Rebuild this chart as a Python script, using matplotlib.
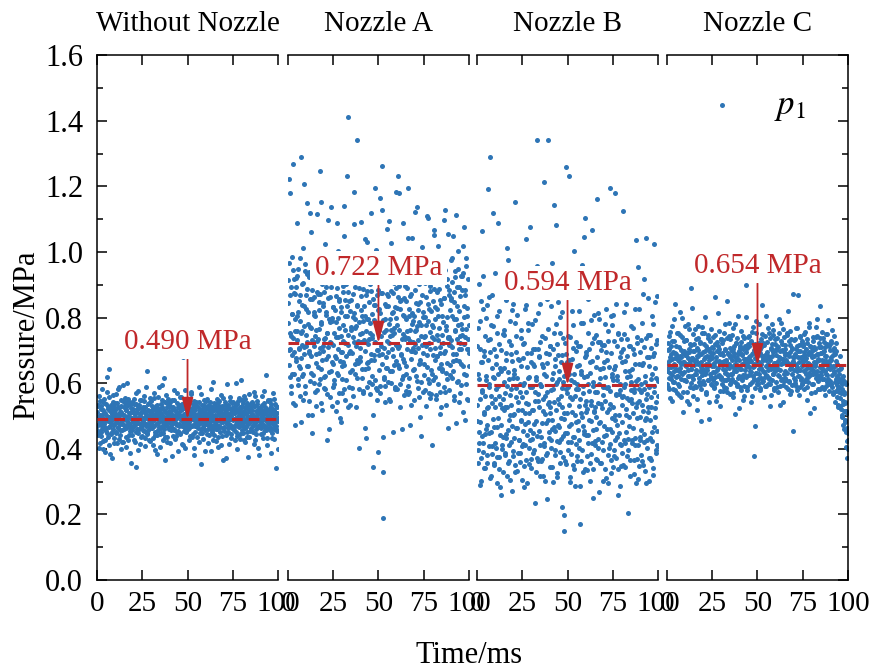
import numpy as np
import matplotlib.pyplot as plt
from matplotlib.ticker import MultipleLocator

plt.rcParams['font.family'] = ['Liberation Serif', 'DejaVu Serif']
plt.rcParams['mathtext.fontset'] = 'stix'

# pressure samples (MPa * 1000); two interleaved runs of 400 samples over 100 ms per case
p_none = [
    512, 468, 455, 530, 491, 402, 547, 478, 520, 439, 583, 497, 461, 425, 506, 552, 474, 488, 390, 535,
    463, 501, 619, 447, 528, 484, 411, 559, 493, 470, 522, 446, 508, 372, 487, 541, 459, 515, 432, 496,
    538, 481, 452, 567, 499, 417, 526, 463, 504, 589, 443, 476, 512, 398, 531, 485, 458, 547, 420, 502,
    473, 556, 491, 436, 518, 462, 601, 497, 428, 544, 479, 509, 455, 386, 523, 468, 535, 494, 441, 512,
    486, 427, 552, 471, 505, 344, 537, 489, 460, 521, 575, 448, 498, 532, 415, 476, 510, 465, 548, 493,
    438, 519, 482, 561, 453, 497, 409, 528, 474, 506, 444, 636, 490, 457, 539, 468, 501, 423, 516, 479,
    545, 462, 499, 433, 524, 488, 571, 451, 507, 396, 530, 476, 514, 443, 492, 558, 467, 521, 404, 485,
    503, 448, 536, 470, 593, 494, 426, 518, 459, 541, 483, 365, 509, 472, 527, 437, 496, 553, 461, 514,
    478, 531, 416, 495, 466, 548, 503, 440, 522, 486, 457, 579, 498, 431, 515, 474, 539, 452, 506, 392,
    527, 469, 503, 557, 444, 489, 518, 413, 536, 475, 680, 497, 453, 524, 482, 401, 546, 466, 511, 488,
    459, 514, 480, 539, 427, 502, 468, 566, 491, 436, 525, 473, 508, 382, 544, 496, 451, 519, 484, 530,
    494, 437, 526, 462, 508, 587, 475, 519, 448, 501, 354, 533, 487, 465, 512, 429, 549, 478, 503, 456,
    521, 483, 446, 552, 497, 418, 530, 469, 510, 475, 541, 392, 506, 458, 526, 489, 604, 464, 518, 441,
    476, 535, 499, 423, 516, 461, 543, 488, 405, 529, 470, 511, 452, 563, 494, 438, 520, 482, 507, 367,
    508, 454, 532, 487, 441, 518, 476, 597, 499, 462, 528, 414, 503, 471, 545, 490, 434, 523, 466, 512,
    487, 542, 465, 509, 428, 527, 493, 451, 536, 480, 399, 515, 469, 554, 497, 446, 522, 485, 611, 458,
    531, 473, 504, 447, 561, 490, 419, 524, 466, 508, 483, 540, 435, 497, 376, 519, 478, 532, 455, 501,
    464, 517, 489, 538, 452, 503, 574, 471, 426, 529, 495, 460, 512, 484, 546, 403, 506, 467, 523, 490,
    513, 445, 526, 482, 497, 561, 433, 508, 472, 539, 456, 491, 626, 467, 520, 411, 503, 486, 548, 462,
    479, 524, 458, 505, 388, 536, 491, 449, 517, 474, 553, 430, 502, 468, 531, 484, 340, 510, 457, 495,
]
p_none_2 = [
    497, 534, 442, 476, 561, 418, 503, 485, 529, 452, 470, 546, 399, 517, 481, 463, 538, 427, 509, 492,
    455, 573, 488, 521, 437, 498, 642, 466, 514, 383, 532, 479, 505, 451, 563, 494, 416, 527, 472, 506,
    519, 447, 506, 482, 538, 465, 581, 430, 499, 523, 458, 512, 487, 549, 421, 476, 503, 595, 461, 527,
    491, 540, 463, 518, 406, 485, 529, 474, 552, 443, 501, 466, 536, 493, 358, 512, 458, 543, 480, 521,
    467, 508, 535, 419, 496, 571, 452, 513, 488, 531, 395, 478, 524, 460, 507, 549, 436, 492, 515, 471,
    526, 481, 457, 545, 491, 433, 512, 468, 587, 502, 447, 519, 475, 537, 426, 498, 556, 462, 509, 484,
    473, 529, 496, 411, 518, 554, 470, 493, 442, 526, 501, 385, 534, 478, 512, 456, 589, 497, 521, 445,
    508, 464, 550, 485, 527, 449, 499, 616, 472, 515, 437, 494, 563, 481, 420, 539, 466, 507, 488, 531,
    489, 542, 458, 516, 474, 503, 378, 528, 497, 461, 548, 483, 519, 440, 505, 569, 471, 493, 526, 454,
    512, 476, 533, 447, 499, 559, 468, 521, 492, 410, 537, 483, 506, 463, 578, 497, 452, 528, 475, 515,
    485, 523, 462, 548, 506, 439, 517, 494, 573, 470, 511, 446, 535, 489, 402, 526, 468, 503, 541, 477,
    530, 468, 504, 489, 421, 542, 478, 515, 459, 501, 566, 484, 447, 523, 497, 471, 534, 392, 509, 486,
    476, 547, 493, 525, 460, 508, 443, 532, 484, 519, 498, 469, 582, 452, 514, 487, 427, 540, 472, 503,
    501, 459, 528, 474, 553, 489, 517, 436, 506, 545, 465, 493, 524, 480, 412, 531, 497, 462, 556, 490,
    466, 521, 485, 542, 497, 371, 510, 478, 533, 451, 506, 488, 559, 471, 522, 444, 499, 538, 463, 517,
    524, 490, 457, 509, 536, 472, 601, 495, 440, 518, 482, 547, 466, 503, 429, 527, 491, 512, 478, 550,
    493, 538, 471, 426, 515, 483, 552, 464, 507, 490, 534, 451, 520, 476, 568, 498, 437, 511, 486, 529,
    458, 507, 543, 486, 472, 529, 415, 498, 561, 479, 516, 444, 502, 537, 468, 491, 524, 381, 508, 473,
    520, 481, 462, 534, 499, 447, 515, 577, 470, 505, 489, 528, 456, 512, 494, 432, 546, 478, 517, 497,
    475, 512, 548, 463, 527, 490, 434, 506, 571, 482, 518, 459, 495, 537, 470, 509, 453, 526, 399, 484,
]
p_a = [
    782, 915, 654, 1221, 703, 868, 592, 744, 983, 627, 811, 540, 1268, 695, 876, 758, 473, 921, 668, 805,
    1087, 732, 614, 949, 851, 706, 560, 789, 1290, 677, 902, 623, 758, 1012, 548, 836, 711, 964, 592, 747,
    869, 651, 1148, 724, 503, 817, 693, 938, 605, 772, 1061, 684, 855, 447, 731, 991, 626, 808, 712, 574,
    945, 688, 762, 531, 879, 1116, 649, 734, 823, 598, 707, 872, 1153, 642, 781, 519, 916, 697, 843, 618,
    736, 1024, 581, 809, 675, 893, 752, 426, 861, 710, 633, 968, 785, 559, 894, 721, 1138, 664, 799, 587,
    833, 609, 754, 928, 682, 516, 867, 741, 1089, 630, 799, 705, 571, 851, 935, 667, 743, 482, 817, 694,
    612, 879, 727, 1047, 655, 806, 548, 763, 901, 683, 834, 1230, 1410, 716, 587, 849, 698, 962, 534, 771,
    853, 692, 586, 938, 741, 815, 1183, 627, 768, 894, 528, 713, 1340, 836, 662, 959, 401, 787, 708, 912,
    679, 824, 1092, 615, 753, 886, 569, 731, 978, 643, 805, 462, 869, 726, 1031, 588, 797, 664, 911, 736,
    567, 782, 906, 689, 1119, 748, 621, 857, 502, 793, 671, 943, 725, 839, 584, 1006, 701, 768, 389, 884,
    763, 641, 827, 1163, 592, 712, 874, 688, 1263, 330, 190, 755, 618, 908, 797, 543, 836, 679, 1071, 728,
    694, 866, 551, 781, 931, 637, 745, 1028, 601, 815, 703, 876, 452, 769, 654, 923, 588, 832, 1184, 716,
    829, 583, 1232, 707, 646, 896, 762, 527, 851, 688, 984, 734, 612, 807, 1089, 675, 859, 563, 742, 917,
    652, 797, 704, 891, 568, 1195, 738, 826, 615, 762, 473, 873, 697, 1042, 781, 639, 914, 725, 548, 806,
    885, 719, 621, 953, 774, 1137, 586, 708, 842, 659, 787, 497, 927, 743, 603, 869, 1015, 691, 816, 572,
    742, 658, 904, 803, 531, 776, 962, 687, 1104, 612, 841, 723, 569, 897, 756, 640, 819, 410, 778, 933,
    608, 851, 735, 1068, 672, 794, 553, 915, 746, 826, 684, 1019, 598, 768, 887, 711, 506, 842, 657, 993,
    805, 643, 949, 722, 588, 861, 1127, 697, 775, 534, 917, 662, 803, 741, 1056, 579, 883, 716, 624, 858,
    731, 909, 617, 804, 1047, 689, 562, 847, 758, 943, 478, 796, 671, 892, 735, 1003, 606, 819, 705, 571,
    867, 704, 781, 593, 928, 747, 1018, 652, 836, 719, 487, 883, 766, 624, 957, 703, 805, 548, 735, 692,
]
p_a_2 = [
    845, 702, 966, 618, 1179, 754, 893, 571, 812, 687, 946, 739, 628, 918, 796, 534, 871, 892, 676, 759,
    928, 593, 817, 652, 704, 869, 645, 982, 752, 481, 838, 715, 905, 627, 1208, 773, 689, 941, 569, 826,
    712, 886, 934, 653, 781, 547, 924, 698, 856, 1118, 632, 769, 884, 503, 947, 726, 818, 601, 863, 743,
    806, 661, 952, 729, 579, 873, 911, 693, 764, 848, 612, 1247, 787, 539, 901, 672, 834, 713, 958, 584,
    877, 738, 623, 991, 816, 566, 753, 1097, 682, 908, 797, 459, 863, 724, 636, 944, 789, 529, 658, 832,
    715, 947, 598, 823, 968, 677, 785, 542, 889, 741, 1003, 624, 857, 768, 495, 912, 696, 831, 571, 653,
    896, 664, 778, 1139, 583, 853, 722, 967, 611, 804, 916, 747, 526, 879, 692, 958, 819, 634, 925, 762,
    639, 911, 802, 561, 872, 1085, 725, 797, 658, 943, 774, 671, 617, 839, 727, 926, 583, 889, 751, 668,
    867, 724, 951, 642, 806, 789, 576, 834, 913, 697, 1039, 758, 433, 882, 661, 795, 645, 718, 604, 846,
    754, 903, 672, 881, 596, 812, 737, 954, 343, 686, 837, 1195, 611, 778, 913, 549, 869, 578, 702, 823,
    928, 685, 815, 571, 953, 744, 1129, 658, 876, 437, 793, 612, 706, 841, 592, 927, 761, 646, 646, 872,
    603, 836, 1094, 721, 794, 545, 882, 763, 969, 638, 748, 817, 683, 905, 754, 581, 937, 799, 667, 891,
    778, 942, 656, 863, 1181, 714, 598, 826, 915, 687, 853, 461, 932, 749, 621, 664, 805, 733, 895, 576,
    851, 629, 917, 758, 1043, 591, 806, 573, 727, 866, 673, 949, 532, 815, 697, 706, 788, 643, 935, 759,
    694, 1122, 763, 845, 607, 974, 731, 823, 558, 902, 661, 672, 848, 776, 439, 931, 715, 916, 803, 626,
    909, 745, 578, 992, 712, 863, 1109, 649, 788, 935, 601, 827, 554, 703, 881, 566, 959, 741, 627, 685,
    772, 887, 1052, 618, 833, 706, 954, 565, 879, 683, 731, 804, 647, 921, 574, 693, 853, 528, 966, 747,
    638, 921, 787, 1097, 691, 858, 572, 944, 763, 632, 613, 897, 739, 464, 869, 741, 715, 823, 654, 976,
    854, 711, 982, 637, 668, 794, 878, 549, 925, 761, 688, 1113, 834, 603, 947, 776, 541, 667, 892, 721,
    743, 926, 658, 884, 765, 513, 937, 802, 1075, 629, 868, 742, 981, 596, 829, 552, 704, 916, 778, 652,
]
p_b = [
    486, 712, 355, 628, 903, 417, 551, 789, 302, 664, 438, 1064, 572, 826, 391, 697, 513, 341, 745, 608,
    459, 838, 525, 382, 671, 1193, 447, 596, 1290, 734, 318, 562, 869, 409, 647, 491, 773, 356, 615, 937,
    528, 401, 684, 297, 752, 466, 591, 1087, 374, 819, 537, 443, 702, 259, 636, 880, 412, 553, 328, 761,
    645, 387, 571, 853, 432, 693, 316, 527, 974, 458, 612, 364, 789, 503, 420, 716, 582, 271, 668, 841,
    394, 629, 507, 1152, 351, 744, 462, 586, 809, 333, 675, 518, 427, 892, 573, 386, 651, 489, 762, 305,
    558, 718, 413, 601, 282, 827, 476, 1039, 538, 367, 693, 441, 616, 784, 352, 509, 931, 428, 589, 663,
    342, 781, 519, 448, 657, 908, 396, 574, 236, 703, 485, 619, 1340, 372, 544, 815, 453, 682, 318, 597,
    726, 435, 592, 864, 369, 648, 514, 407, 1212, 561, 302, 739, 478, 623, 387, 856, 536, 1340, 451, 689,
    508, 344, 712, 579, 426, 966, 487, 631, 298, 754, 542, 381, 673, 455, 1083, 596, 325, 718, 473, 847,
    612, 419, 537, 801, 356, 664, 495, 222, 586, 737, 438, 150, 621, 509, 875, 362, 688, 1258, 447, 571,
    396, 743, 1231, 468, 629, 314, 557, 892, 421, 675, 513, 349, 776, 604, 437, 1003, 562, 286, 697, 482,
    651, 377, 583, 457, 821, 529, 403, 712, 170, 637, 364, 959, 496, 571, 328, 784, 446, 618, 532, 1102,
    443, 687, 521, 336, 752, 598, 418, 862, 489, 302, 663, 547, 384, 721, 1068, 457, 592, 339, 808, 516,
    574, 412, 649, 497, 1160, 365, 726, 538, 429, 794, 268, 615, 483, 702, 355, 891, 524, 646, 397, 563,
    716, 469, 338, 587, 825, 443, 671, 513, 294, 758, 587, 402, 934, 536, 461, 692, 327, 619, 778, 451,
    528, 807, 395, 643, 488, 1181, 372, 566, 714, 437, 621, 259, 749, 502, 867, 413, 578, 695, 346, 532,
    482, 664, 1124, 351, 588, 749, 416, 637, 503, 842, 379, 556, 684, 431, 205, 713, 497, 622, 365, 775,
    603, 427, 538, 893, 462, 705, 324, 581, 659, 412, 1036, 527, 368, 741, 493, 612, 308, 827, 546, 436,
    695, 381, 574, 458, 782, 532, 349, 662, 917, 419, 603, 487, 738, 295, 553, 681, 426, 859, 512, 373,
    589, 746, 432, 612, 367, 528, 804, 451, 683, 319, 572, 1025, 496, 647, 388, 719, 543, 412, 866, 607,
]
p_b_2 = [
    534, 397, 768, 451, 612, 289, 705, 483, 851, 372, 579, 664, 418, 926, 507, 341, 683, 562, 445, 798,
    623, 471, 356, 732, 528, 863, 409, 587, 312, 694, 451, 777, 539, 385, 1120, 618, 467, 703, 349, 552,
    417, 659, 581, 374, 806, 495, 628, 337, 719, 562, 283, 645, 472, 886, 523, 398, 751, 436, 604, 517,
    748, 382, 526, 669, 445, 591, 1012, 358, 634, 487, 727, 411, 563, 305, 688, 532, 822, 469, 377, 615,
    503, 641, 433, 782, 329, 557, 696, 462, 615, 388, 869, 541, 426, 672, 361, 598, 485, 737, 519, 408,
    676, 455, 594, 347, 723, 508, 411, 838, 572, 294, 649, 483, 761, 535, 402, 618, 1075, 456, 692, 368,
    431, 587, 704, 519, 386, 652, 474, 791, 545, 329, 611, 957, 438, 568, 703, 364, 527, 679, 412, 842,
    592, 363, 658, 479, 743, 552, 317, 629, 416, 874, 507, 691, 382, 574, 248, 662, 488, 765, 541, 433,
    714, 526, 401, 836, 459, 612, 343, 703, 581, 466, 1143, 397, 652, 518, 779, 425, 603, 313, 687, 552,
    465, 638, 752, 389, 561, 431, 685, 528, 816, 375, 603, 492, 198, 721, 447, 583, 352, 664, 509, 893,
    587, 421, 669, 533, 298, 742, 476, 611, 385, 819, 552, 437, 706, 339, 628, 503, 871, 414, 581, 726,
    362, 598, 484, 713, 426, 655, 551, 286, 784, 509, 627, 395, 872, 468, 592, 1045, 453, 681, 338, 547,
    695, 512, 378, 623, 857, 441, 576, 703, 357, 631, 484, 792, 532, 416, 668, 249, 604, 511, 739, 425,
    528, 746, 459, 369, 681, 574, 813, 402, 597, 478, 724, 355, 642, 536, 883, 421, 715, 302, 589, 663,
    439, 618, 547, 779, 312, 694, 459, 586, 727, 381, 649, 522, 413, 1196, 576, 367, 806, 493, 628, 345,
    611, 378, 728, 503, 652, 428, 563, 842, 471, 608, 338, 753, 566, 449, 681, 287, 598, 736, 412, 559,
    387, 705, 561, 428, 817, 596, 343, 668, 521, 452, 734, 618, 397, 893, 548, 469, 636, 318, 712, 578,
    552, 643, 418, 769, 509, 365, 688, 574, 827, 433, 607, 296, 723, 539, 412, 954, 581, 658, 347, 496,
    428, 597, 731, 362, 654, 515, 871, 446, 583, 709, 332, 621, 493, 1041, 568, 403, 747, 526, 302, 681,
    651, 488, 372, 706, 559, 423, 628, 779, 341, 592, 467, 693, 524, 846, 397, 615, 453, 731, 562, 409,
]
p_c = [
    662, 598, 721, 645, 583, 704, 631, 756, 612, 689, 547, 673, 728, 604, 651, 795, 637, 578, 692, 619,
    713, 641, 569, 684, 752, 623, 590, 668, 817, 645, 702, 558, 679, 627, 741, 665, 512, 698, 633, 774,
    608, 687, 651, 732, 574, 659, 623, 781, 694, 535, 666, 718, 601, 643, 889, 677, 622, 749, 586, 655,
    699, 627, 765, 588, 672, 641, 706, 553, 684, 738, 617, 661, 593, 725, 648, 486, 689, 634, 771, 605,
    643, 718, 596, 680, 629, 801, 657, 572, 703, 639, 748, 611, 669, 542, 694, 655, 727, 619, 683, 594,
    676, 609, 741, 653, 587, 719, 634, 862, 668, 601, 697, 562, 713, 646, 758, 625, 689, 531, 662, 734,
    618, 693, 654, 577, 732, 666, 608, 779, 641, 705, 584, 672, 627, 851, 690, 613, 744, 658, 597, 681,
    735, 652, 603, 697, 628, 769, 571, 684, 645, 712, 659, 506, 723, 637, 678, 598, 806, 649, 691, 621,
    669, 589, 712, 642, 758, 615, 687, 548, 703, 661, 737, 592, 674, 626, 898, 653, 707, 579, 664, 718,
    624, 743, 681, 597, 667, 635, 724, 562, 690, 648, 771, 613, 659, 702, 469, 676, 631, 752, 606, 687,
    701, 614, 665, 779, 629, 692, 584, 711, 647, 837, 603, 675, 636, 722, 558, 684, 743, 618, 671, 592,
    653, 726, 598, 683, 640, 754, 617, 669, 531, 705, 652, 781, 609, 694, 627, 748, 660, 585, 718, 637,
    687, 602, 739, 656, 574, 711, 644, 796, 622, 678, 590, 729, 659, 613, 702, 542, 673, 765, 628, 696,
    617, 704, 663, 588, 753, 631, 690, 659, 821, 605, 684, 567, 716, 648, 736, 595, 662, 707, 454, 679,
    732, 641, 688, 609, 767, 654, 578, 713, 636, 699, 868, 623, 665, 744, 589, 681, 615, 728, 651, 597,
    668, 715, 583, 694, 639, 757, 612, 676, 549, 722, 647, 690, 603, 784, 658, 625, 713, 571, 687, 641,
    596, 679, 742, 628, 664, 525, 703, 651, 772, 617, 688, 636, 745, 582, 673, 709, 621, 836, 648, 693,
    711, 634, 672, 587, 738, 659, 613, 697, 564, 682, 749, 627, 668, 602, 719, 645, 791, 576, 654, 702,
    643, 727, 598, 681, 624, 763, 651, 572, 706, 638, 689, 541, 723, 612, 667, 594, 658, 532, 615, 573,
    629, 556, 684, 521, 603, 647, 498, 582, 611, 537, 459, 572, 604, 488, 543, 405, 516, 463, 372, 428,
]
p_c_2 = [
    637, 702, 589, 668, 743, 615, 681, 556, 714, 648, 773, 626, 695, 581, 659, 728, 603, 677, 841, 644,
    688, 623, 754, 597, 671, 636, 709, 563, 682, 748, 614, 657, 799, 631, 693, 572, 664, 727, 609, 685,
    654, 731, 606, 692, 545, 678, 639, 765, 621, 703, 658, 587, 716, 643, 676, 828, 612, 697, 561, 669,
    718, 592, 667, 736, 628, 683, 519, 702, 657, 775, 604, 689, 638, 721, 583, 664, 752, 625, 696, 641,
    601, 674, 753, 632, 697, 566, 712, 649, 684, 611, 739, 658, 492, 703, 627, 681, 598, 766, 651, 709,
    692, 635, 708, 584, 662, 747, 618, 681, 547, 726, 640, 697, 814, 623, 668, 705, 577, 659, 733, 614,
    663, 722, 598, 687, 643, 589, 754, 631, 702, 667, 611, 738, 652, 574, 693, 626, 784, 645, 707, 568,
    627, 684, 746, 613, 672, 705, 558, 693, 638, 781, 603, 669, 721, 592, 656, 739, 615, 688, 524, 699,
    706, 643, 579, 724, 657, 611, 688, 743, 626, 675, 561, 712, 639, 695, 802, 618, 673, 587, 741, 652,
    649, 712, 636, 682, 543, 729, 667, 604, 756, 621, 693, 651, 378, 718, 586, 674, 631, 788, 662, 598,
    685, 597, 721, 644, 703, 578, 658, 736, 615, 684, 749, 607, 672, 635, 716, 591, 687, 653, 806, 624,
    622, 694, 657, 768, 613, 679, 737, 596, 708, 642, 565, 719, 683, 628, 761, 647, 579, 702, 661, 734,
    701, 648, 589, 712, 667, 624, 753, 679, 532, 697, 639, 784, 611, 673, 718, 594, 662, 741, 605, 686,
    636, 717, 672, 609, 689, 746, 582, 661, 728, 603, 695, 642, 759, 576, 654, 703, 627, 872, 668, 615,
    679, 601, 734, 657, 592, 703, 648, 769, 623, 681, 715, 564, 697, 639, 742, 611, 676, 598, 723, 658,
    714, 638, 685, 751, 606, 672, 629, 703, 587, 736, 662, 618, 694, 771, 631, 655, 508, 709, 643, 697,
    652, 728, 597, 683, 636, 711, 659, 574, 742, 629, 796, 668, 607, 689, 723, 615, 671, 583, 737, 626,
    691, 613, 756, 642, 694, 581, 667, 725, 638, 709, 592, 683, 751, 624, 664, 613, 712, 657, 598, 672,
    606, 671, 723, 589, 648, 702, 566, 687, 631, 744, 602, 653, 576, 697, 621, 558, 639, 584, 527, 606,
    587, 642, 531, 614, 569, 503, 598, 546, 472, 623, 514, 567, 481, 539, 451, 596, 423, 508, 447, 399,
]

cases = ["Without Nozzle", "Nozzle A", "Nozzle B", "Nozzle C"]
series = [(p_none, p_none_2), (p_a, p_a_2), (p_b, p_b_2), (p_c, p_c_2)]
means = [0.490, 0.722, 0.594, 0.654]
label_y = [0.725, 0.951, 0.905, 0.957]
xticks = [0, 25, 50, 75, 100]

blue = '#2e75b6'
red = '#c0282a'

fig = plt.figure(figsize=(8.86, 6.72), dpi=100)
lefts = [0.1095, 0.325, 0.5384, 0.7528]
axes = []
for k in range(4):
    ax = fig.add_axes([lefts[k], 0.137, 0.2043, 0.781])
    run1, run2 = series[k]
    y = np.column_stack([run1, run2]).ravel() / 1000.0
    t = np.linspace(0, 100, len(y))
    ax.scatter(t, y, s=13, color=blue, linewidths=0, zorder=2)
    ax.plot([0, 100], [means[k], means[k]], color=red, lw=2.2, dashes=(3.5, 2), zorder=3)
    ax.annotate(f"{means[k]:.3f} MPa", xy=(50, means[k]), xytext=(50, label_y[k]),
                ha='center', va='center', color=red, fontsize=21, zorder=5,
                bbox=dict(boxstyle='square,pad=0.15', fc='white', ec='none'),
                arrowprops=dict(arrowstyle='-|>,head_width=0.35,head_length=1.3',
                                mutation_scale=10, color=red, lw=1.3,
                                shrinkA=0, shrinkB=0))
    ax.set_xlim(0, 100)
    ax.set_ylim(0, 1.6)
    ax.set_xticks(xticks)
    ax.set_xticklabels([str(v) for v in xticks])
    ax.tick_params(axis='x', direction='in', top=True, length=7, width=1.1,
                   labelsize=21, pad=8)
    ax.set_title(cases[k], fontsize=21, pad=17)
    for s in ax.spines.values():
        s.set_linewidth(1.1)
    ax.spines['left'].set_visible(k == 0)
    ax.spines['right'].set_visible(k == 3)
    ax.yaxis.set_major_locator(MultipleLocator(0.2))
    ax.yaxis.set_minor_locator(MultipleLocator(0.1))
    if k == 0:
        ax.tick_params(axis='y', which='both', direction='in', left=True, right=False,
                       labelsize=22, width=1.1, pad=10)
        ax.tick_params(axis='y', which='major', length=7)
        ax.tick_params(axis='y', which='minor', length=4)
        ax.set_yticks([0, 0.2, 0.4, 0.6, 0.8, 1.0, 1.2, 1.4, 1.6])
        ax.set_yticklabels([f"{v:.1f}" for v in np.arange(0, 1.61, 0.2)])
    elif k == 3:
        ax.tick_params(axis='y', which='both', direction='in', left=False, right=True,
                       labelleft=False, width=1.1)
        ax.tick_params(axis='y', which='major', length=7)
        ax.tick_params(axis='y', which='minor', length=4)
    else:
        ax.tick_params(axis='y', which='both', left=False, right=False, labelleft=False)
    axes.append(ax)

leg = axes[3].legend([axes[3].collections[0]], [r'$p_1$'], loc='upper right',
                     frameon=False, fontsize=25, handletextpad=0.5,
                     bbox_to_anchor=(0.94, 0.995))

fig.text(0.030, 0.501, 'Pressure/MPa', rotation=90, ha='center', va='center', fontsize=22)
fig.text(0.529, 0.025, 'Time/ms', ha='center', va='center', fontsize=22)

fig.savefig('out.png', dpi=100)
